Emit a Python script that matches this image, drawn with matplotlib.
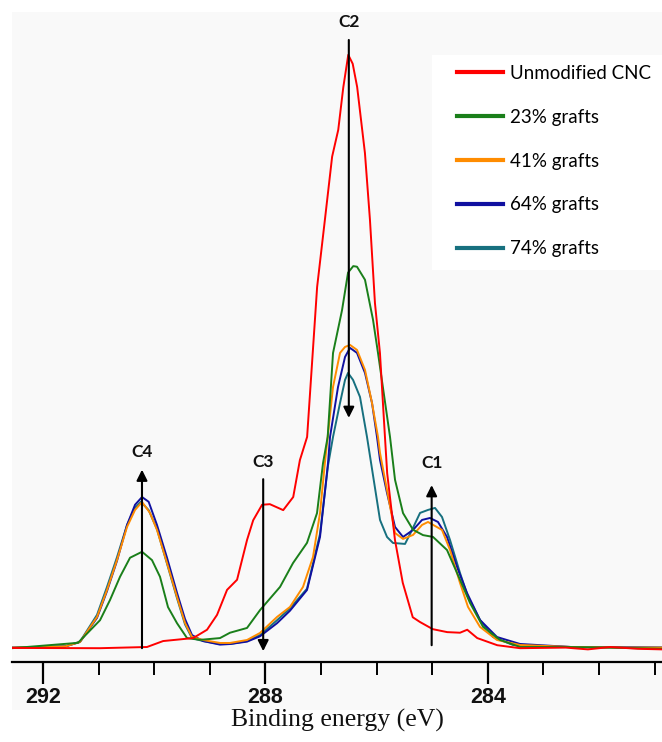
import matplotlib
matplotlib.use("Agg")
import matplotlib.pyplot as plt
from matplotlib.patches import Rectangle
import numpy as np

# ---------------- data (binding energy in eV, intensity in a.u.) ----------------
red_E = [292.558, 290.975, 290.13, 289.84, 289.30, 289.05, 288.87, 288.69, 288.51, 288.33,
         288.22, 288.06, 287.92, 287.68, 287.50, 287.38, 287.25, 287.07, 286.93, 286.80,
         286.69, 286.60, 286.51, 286.43, 286.35, 286.21, 286.12, 286.03, 285.94, 285.85, 285.81, 285.67,
         285.53, 285.35, 285.22, 284.99, 284.73, 284.50, 284.37, 284.19, 283.83, 283.42,
         282.6, 282.2, 281.8, 281.3, 280.867]
red_I = [0.34, 0.3, 0.5, 1.5, 2.0, 3.4, 5.9, 10.1, 11.8, 18.5,
         21.8, 24.4, 24.5, 23.5, 25.7, 31.9, 35.8, 61.0, 72.3, 82.9,
         87.4, 94.5, 100.0, 98.5, 94.6, 83.5, 72.3, 58.3, 49.9, 35.8, 29.7, 18.5,
         11.3, 5.5, 4.7, 3.5, 3.0, 2.9, 3.4, 2.0, 0.8, 0.3,
         0.4, 0.1, 0.5, 0.2, 0.1]

green_E = [292.558, 291.371, 290.975, 290.795, 290.615, 290.435, 290.219, 290.040, 289.896, 289.752,
           289.590, 289.410, 289.176, 288.817, 288.637, 288.331, 288.097, 287.737, 287.504, 287.252,
           287.072, 286.964, 286.88, 286.784, 286.622, 286.514, 286.42, 286.353, 286.209, 286.065, 285.975,
           285.759, 285.669, 285.525, 285.345, 285.165, 284.986, 284.734, 284.500, 284.320, 284.086,
           283.781, 283.421, 282.6, 281.8, 280.867]
green_I = [0.3, 1.2, 5.0, 8.4, 12.3, 15.5, 16.5, 15.1, 12.3, 7.2,
           4.5, 2.0, 1.7, 2.0, 2.9, 3.7, 6.7, 10.6, 14.6, 18.0,
           23.0, 31.4, 35.8, 49.9, 57.1, 63.4, 64.5, 64.4, 62.2, 55.5, 49.9,
           35.8, 28.6, 23.0, 20.2, 19.3, 19.0, 16.8, 11.8, 7.9, 3.9,
           1.7, 0.5, 0.5, 0.4, 0.2]

orange_E = [292.558, 291.6, 291.335, 291.029, 290.849, 290.669, 290.489, 290.345, 290.219, 290.076,
            289.950, 289.770, 289.590, 289.446, 289.320, 289.122, 288.817, 288.637, 288.331, 288.097,
            287.791, 287.558, 287.324, 287.144, 287.018, 286.93, 286.88, 286.784, 286.658, 286.568,
            286.478, 286.353, 286.209, 286.083, 285.975, 285.939, 285.813, 285.669, 285.525, 285.345,
            285.183, 285.076, 284.950, 284.824, 284.680, 284.500, 284.356, 284.140, 283.835, 283.421,
            282.5, 281.5, 280.867]
orange_I = [0.4, 0.6, 1.34, 5.55, 10.08, 15.13, 20.67, 23.53, 24.87, 23.03,
            20.17, 14.62, 8.91, 4.54, 2.18, 1.68, 1.18, 1.18, 1.68, 2.86,
            5.55, 7.23, 10.59, 15.63, 23.03, 31.43, 35.80, 44.20, 49.92, 50.92,
            51.26, 50.42, 47.06, 41.51, 35.80, 33.11, 26.89, 19.66, 18.66, 19.33,
            21.01, 21.51, 20.84, 20.17, 16.81, 11.26, 7.23, 3.87, 1.68, 0.84,
            0.5, 0.4, 0.4]

blue_E = [292.558, 291.6, 291.335, 291.029, 290.849, 290.669, 290.489, 290.345, 290.219, 290.10,
          289.950, 289.770, 289.590, 289.446, 289.320, 289.122, 288.817, 288.637, 288.331, 288.097,
          287.791, 287.558, 287.252, 287.018, 286.874, 286.838, 286.694, 286.568, 286.478, 286.353,
          286.209, 286.083, 285.993, 285.939, 285.813, 285.669, 285.525, 285.345, 285.183, 285.040,
          284.896, 284.734, 284.554, 284.374, 284.140, 283.835, 283.421, 282.5, 280.867]
blue_I = [0.4, 0.6, 1.34, 5.4, 9.9, 15.0, 21.0, 24.4, 25.7, 24.9,
          21.0, 15.5, 9.6, 5.2, 2.5, 1.5, 0.9, 1.0, 1.4, 2.3,
          4.5, 6.6, 10.08, 18.99, 31.43, 35.80, 44.20, 49.24, 50.76, 49.92,
          46.55, 41.51, 35.80, 31.93, 26.39, 20.67, 18.99, 20.17, 21.85, 22.18,
          21.51, 18.99, 13.95, 9.58, 5.04, 2.18, 1.01, 0.5, 0.4]

teal_E = [292.558, 291.6, 291.335, 291.029, 290.849, 290.669, 290.489, 290.345, 290.24, 290.10,
          289.950, 289.770, 289.590, 289.446, 289.320, 289.122, 288.817, 288.637, 288.331, 288.097,
          287.791, 287.558, 287.252, 287.018, 286.874, 286.784, 286.658, 286.568, 286.514, 286.424,
          286.299, 286.173, 285.939, 285.813, 285.705, 285.489, 285.363, 285.219, 285.076, 284.950,
          284.824, 284.680, 284.500, 284.356, 284.140, 283.906, 283.547, 282.5, 280.867]
teal_I = [0.4, 0.6, 1.4, 5.9, 10.6, 15.6, 21.0, 23.9, 24.9, 23.5,
          20.3, 14.5, 8.7, 4.3, 2.0, 1.5, 1.0, 1.0, 1.5, 2.5,
          5.0, 7.0, 10.3, 19.5, 31.0, 35.80, 41.51, 45.38, 46.55, 45.38,
          42.52, 35.80, 21.85, 18.99, 17.98, 17.82, 20.17, 23.03, 23.53, 23.87,
          22.35, 18.49, 12.94, 8.91, 5.04, 2.18, 0.84, 0.5, 0.4]

labels = ["Unmodified CNC", "23% grafts", "41% grafts", "64% grafts", "74% grafts"]
colors = ["#ff0000", "#1a7f1a", "#ff8c00", "#1010a0", "#17707f"]

# arrows: (label, x, y_tail, y_head)
arrow_names = ["C4", "C3", "C2", "C1"]
arrow_x = [290.22, 288.04, 286.50, 285.01]
arrow_tail = [0.3, 28.7, 102.5, 0.8]
arrow_head = [30.3, -0.2, 39.0, 27.7]
label_y = [33.3, 31.6, 105.5, 31.4]

xticks_major = [292, 288, 284]
xticks_minor = [291, 290, 289, 287, 286, 285, 283, 282, 281]

# ---------------- figure ----------------
W, H = 662, 742
fig = plt.figure(figsize=(W / 100, H / 100), dpi=100)
fig.patch.set_facecolor("white")
bg = "#f9f9f9"
# tick-label band
fig.add_artist(Rectangle((12 / W, (H - 710) / H), (W - 12) / W, 48 / H,
                         transform=fig.transFigure, facecolor=bg, edgecolor="none", zorder=0))

ax = fig.add_axes([12 / W, (H - 662) / H, (W - 12) / W, 650 / H])
ax.set_facecolor(bg)
ax.set_xlim(292.558, 280.867)
ax.set_ylim(-2.02, 107.2)

# white legend patch
ax.add_patch(Rectangle(((432 - 12) / 650, (662 - 270) / 650), (662 - 432) / 650, 215 / 650,
                       transform=ax.transAxes, facecolor="white", edgecolor="none", zorder=0.5))

series = [(red_E, red_I), (green_E, green_I), (orange_E, orange_I), (blue_E, blue_I), (teal_E, teal_I)]
order = [4, 3, 2, 1, 0]
lines = {}
for i in order:
    E, I = series[i]
    ln, = ax.plot(E, I, color=colors[i], lw=1.4, zorder=2 + (4 - i) * 0.1, label=labels[i])
    lines[i] = ln

for name, x, yt, yh, ly in zip(arrow_names, arrow_x, arrow_tail, arrow_head, label_y):
    ax.annotate("", xy=(x, yh), xytext=(x, yt),
                arrowprops=dict(arrowstyle="-|>", color="black", lw=1.5,
                                mutation_scale=16, shrinkA=0, shrinkB=0), zorder=5)
    ax.text(x, ly, name, ha="center", va="center", fontsize=12.5, fontweight="bold",
            family="Lato", color="#111111", zorder=6)

for s in ["left", "right", "top"]:
    ax.spines[s].set_visible(False)
ax.spines["bottom"].set_linewidth(1.6)
ax.set_yticks([])
ax.set_xticks(xticks_major)
ax.set_xticks(xticks_minor, minor=True)
ax.tick_params(axis="x", which="major", length=16, width=1.6, pad=2, direction="out")
ax.tick_params(axis="x", which="minor", length=9, width=1.4, direction="out")
for lab in ax.get_xticklabels():
    lab.set_fontfamily("Liberation Sans")
    lab.set_fontweight("bold")
    lab.set_fontsize(15.5)
    lab.set_color("#111111")

fig.text(337 / W, 1 - 720 / H, "Binding energy (eV)", ha="center", va="center",
         family="Liberation Serif", fontsize=18.5, color="#111111")

leg = ax.legend([lines[i] for i in range(5)], labels, loc="upper left",
                bbox_to_anchor=(457 / W, 1 - 65 / H), bbox_transform=fig.transFigure,
                frameon=False, prop={"family": "Lato", "size": 13.5},
                handlelength=2.45, handletextpad=0.35, labelspacing=1.43, borderpad=0,
                borderaxespad=0)
for h in leg.get_lines():
    h.set_linewidth(3)

fig.savefig("out.png", dpi=100, facecolor="white")
